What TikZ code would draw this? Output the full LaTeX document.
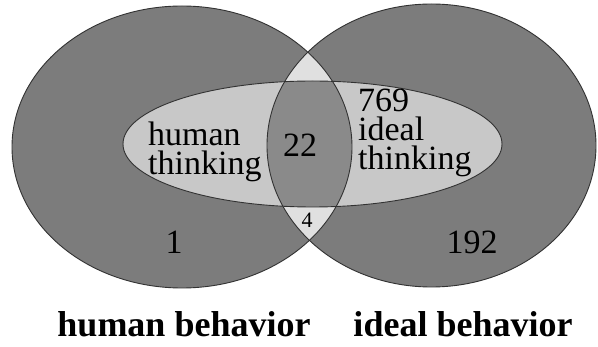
\documentclass[tikz,border=0pt]{standalone}
\usepackage{fontspec}
\setmainfont{Liberation Serif}
\newfontfamily\vennserif{Liberation Serif}
\definecolor{darkg}{RGB}{124,124,124}
\definecolor{lensg}{RGB}{138,138,138}
\definecolor{lightg}{RGB}{200,200,200}
\definecolor{paleg}{RGB}{224,224,224}
\definecolor{edgeg}{RGB}{50,50,50}
\newcommand\leftcirc{(182,147) ellipse [x radius=170pt, y radius=141pt]}
\newcommand\rightcirc{(431.5,145.5) ellipse [x radius=164.5pt, y radius=141.5pt]}
\newcommand\innerell{(312.5,144) ellipse [x radius=189.5pt, y radius=63pt]}
\begin{document}
\begin{tikzpicture}[x=1pt,y=-1pt,
  edge/.style={draw=edgeg, line width=0.9pt},
  txt/.style={anchor=base west, inner sep=0pt, font=\vennserif\fontsize{34}{34}\selectfont},
  block/.style={anchor=base west, inner sep=0pt, align=left, font=\vennserif\fontsize{34}{29}\selectfont},
  smalltxt/.style={anchor=base, inner sep=0pt, font=\vennserif\fontsize{22}{22}\selectfont},
  captxt/.style={anchor=base, inner sep=0pt, font=\vennserif\bfseries\fontsize{36}{36}\selectfont}]
\useasboundingbox (0,0) rectangle (598,347);
\fill[white] (0,0) rectangle (598,347);
% regions
\fill[darkg] \leftcirc;
\fill[darkg] \rightcirc;
\begin{scope}
  \clip \leftcirc;
  \fill[paleg] \rightcirc;
\end{scope}
\fill[lightg] \innerell;
\begin{scope}
  \clip \leftcirc;
  \clip \rightcirc;
  \fill[lensg] \innerell;
\end{scope}
% outlines
\draw[edge] \leftcirc;
\draw[edge] \rightcirc;
\draw[edge] \innerell;
% labels (base anchor of a multi-line node = baseline of its last line)
\node[block] (ht) at (148,175) {human\\thinking};
\node[txt, anchor=base] (n22) at (300,157) {22};
\node[block] (it) at (358,170) {769\\ideal\\thinking};
\node[txt, anchor=base] (n1) at (174,254) {1};
\node[txt, anchor=base] (n192) at (472,254) {192};
\node[smalltxt] (n4) at (307,228) {4};
\node[captxt] (hb) at (184,337) {human behavior};
\node[captxt] (ib) at (463,337) {ideal behavior};
\end{tikzpicture}
\end{document}
